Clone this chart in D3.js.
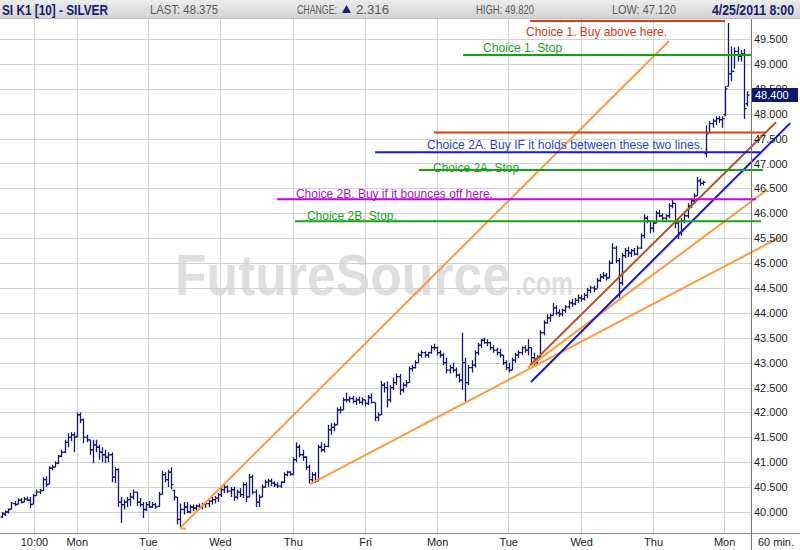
<!DOCTYPE html>
<html>
<head>
<meta charset="utf-8">
<script src="https://d3js.org/d3.v7.min.js"></script>
<style>
  body { margin: 0; background: #fff; }
  svg { display: block; }
</style>
</head>
<body>
<svg id="chart" width="800" height="550"></svg>
<script>
// SI K1 - 60 min bars
const opens = [
  39.9, 39.95, 40.0, 40.06, 40.17, 40.16, 40.24, 40.2, 40.26, 40.24,
  40.16, 40.33, 40.4, 40.43, 40.65, 40.56, 40.88, 40.9, 40.98, 41.12,
  41.2, 41.4, 41.5, 41.55, 41.52, 41.95, 41.85, 41.5, 41.45, 41.25,
  41.35, 41.3, 41.2, 41.15, 41.1, 41.15, 40.7, 40.85, 40.2, 40.15,
  40.2, 40.25, 40.3, 40.4, 40.2, 40.15, 40.05, 40.15, 40.1, 40.15,
  40.12, 40.36, 40.75, 40.65, 40.8, 40.43, 40.3, 39.85, 40.05, 40.1,
  40.0, 40.1, 40.08, 40.12, 40.1, 40.15, 40.17, 40.22, 40.25, 40.28,
  40.35, 40.45, 40.5, 40.42, 40.45, 40.3, 40.4, 40.35, 40.55, 40.3,
  40.7, 40.4, 40.2, 40.3, 40.5, 40.6, 40.62, 40.58, 40.55, 40.52,
  40.6, 40.75, 40.8, 40.76, 41.05, 41.3, 41.15, 41.1, 40.9, 40.65,
  40.75, 40.62, 41.3, 41.25, 41.32, 41.65, 41.7, 41.75, 42.05, 42.05,
  42.25, 42.25, 42.28, 42.22, 42.25, 42.2, 42.25, 42.18, 42.3, 42.2,
  41.9, 41.95, 42.55, 42.5, 42.25, 42.5, 42.6, 42.72, 42.45, 42.55,
  42.6, 42.88, 42.9, 43.0, 43.15, 43.2, 43.15, 43.2, 43.3, 43.3,
  43.2, 43.15, 43.0, 42.85, 42.9, 42.85, 42.75, 42.65, 43.0, 42.6,
  42.9, 42.95, 43.2, 43.35, 43.45, 43.4, 43.4, 43.3, 43.25, 43.2,
  43.15, 43.0, 42.9, 42.85, 43.05, 43.15, 43.2, 43.3, 43.25, 43.3,
  43.1, 43.0, 43.1, 43.6, 43.8, 43.9, 43.95, 44.1, 44.0, 43.98,
  44.05, 44.12, 44.2, 44.18, 44.25, 44.3, 44.28, 44.35, 44.45, 44.5,
  44.48, 44.65, 44.72, 44.75, 44.7, 45.0, 45.3, 45.05, 44.6, 45.15,
  45.25, 45.2, 45.25, 45.18, 45.3, 45.55, 45.9, 45.85, 45.7, 45.8,
  46.0, 45.95, 45.9, 45.95, 46.15, 46.2, 45.8, 45.6, 45.85, 45.95,
  46.15, 46.25, 46.35, 46.65, 46.6, 47.2, 47.62, 47.8, 47.85, 47.9,
  47.88, 47.98, 48.55, 48.8, 48.85, 49.25, 49.15, 49.2, 48.2
];
const highs = [
  40.0, 40.03, 40.07, 40.2, 40.22, 40.27, 40.28, 40.3, 40.31, 40.3,
  40.36, 40.45, 40.46, 40.7, 40.72, 40.92, 40.95, 41.02, 41.15, 41.25,
  41.45, 41.58, 41.6, 41.6, 42.0, 42.0, 41.88, 41.55, 41.45, 41.45,
  41.45, 41.35, 41.3, 41.25, 41.2, 41.2, 40.9, 40.88, 40.3, 40.25,
  40.3, 40.38, 40.45, 40.4, 40.28, 40.2, 40.2, 40.22, 40.2, 40.18,
  40.4, 40.83, 40.8, 40.85, 40.9, 40.45, 40.3, 40.17, 40.2, 40.2,
  40.15, 40.15, 40.15, 40.17, 40.18, 40.2, 40.27, 40.3, 40.32, 40.38,
  40.5, 40.55, 40.53, 40.5, 40.5, 40.45, 40.48, 40.6, 40.6, 40.77,
  40.75, 40.45, 40.35, 40.55, 40.65, 40.67, 40.67, 40.62, 40.6, 40.62,
  40.8, 40.83, 40.82, 41.1, 41.4, 41.35, 41.25, 41.12, 40.95, 40.8,
  40.8, 41.35, 41.4, 41.38, 41.75, 41.78, 41.8, 42.1, 42.12, 42.3,
  42.4, 42.32, 42.33, 42.3, 42.32, 42.3, 42.25, 42.35, 42.38, 42.2,
  42.0, 42.63, 42.6, 42.62, 42.55, 42.7, 42.78, 42.77, 42.6, 42.65,
  42.92, 42.95, 43.05, 43.2, 43.25, 43.23, 43.22, 43.35, 43.38, 43.32,
  43.25, 43.2, 43.1, 42.95, 43.0, 42.9, 42.78, 43.6, 43.1, 42.95,
  43.05, 43.25, 43.4, 43.48, 43.5, 43.47, 43.42, 43.35, 43.3, 43.28,
  43.15, 43.05, 43.0, 43.1, 43.2, 43.25, 43.33, 43.35, 43.47, 43.3,
  43.2, 43.15, 43.65, 43.85, 43.97, 43.98, 44.2, 44.15, 44.07, 44.08,
  44.15, 44.25, 44.28, 44.3, 44.37, 44.36, 44.4, 44.5, 44.55, 44.55,
  44.7, 44.78, 44.82, 44.8, 45.05, 45.4, 45.35, 45.1, 45.2, 45.3,
  45.32, 45.28, 45.3, 45.35, 45.6, 45.98, 45.95, 45.85, 45.85, 46.05,
  46.07, 46.0, 45.98, 46.2, 46.27, 46.2, 45.85, 45.9, 46.0, 46.2,
  46.3, 46.4, 46.73, 46.7, 46.66, 47.77, 47.85, 47.9, 47.95, 47.95,
  47.95, 48.55, 49.82, 49.35, 49.33, 49.35, 49.28, 49.3, 48.45
];
const lows = [
  39.88, 39.92, 39.97, 40.05, 40.12, 40.15, 40.17, 40.2, 40.22, 40.08,
  40.15, 40.32, 40.36, 40.42, 40.5, 40.55, 40.84, 40.9, 40.96, 41.1,
  41.18, 41.3, 41.42, 41.2, 41.5, 41.78, 41.38, 41.4, 41.15, 40.98,
  41.2, 41.05, 41.0, 40.98, 41.0, 40.6, 40.58, 40.1, 39.78, 40.05,
  40.1, 40.12, 40.25, 40.12, 40.1, 39.88, 40.02, 40.08, 40.08, 40.06,
  40.1, 40.35, 40.6, 40.5, 40.45, 40.23, 39.75, 39.68, 39.95, 39.98,
  39.97, 40.02, 40.03, 40.05, 40.05, 40.08, 40.1, 40.15, 40.17, 40.2,
  40.3, 40.38, 40.38, 40.3, 40.22, 40.25, 40.3, 40.28, 40.2, 40.3,
  40.35, 40.1, 40.1, 40.3, 40.48, 40.5, 40.52, 40.5, 40.48, 40.48,
  40.58, 40.72, 40.73, 40.74, 41.0, 41.1, 41.03, 40.85, 40.57, 40.6,
  40.58, 40.62, 41.2, 41.2, 41.3, 41.55, 41.62, 41.75, 41.98, 42.05,
  42.2, 42.2, 42.18, 42.15, 42.18, 42.15, 42.12, 42.15, 42.18, 41.83,
  41.83, 41.95, 42.4, 42.1, 42.2, 42.45, 42.55, 42.35, 42.4, 42.5,
  42.6, 42.82, 42.88, 43.0, 43.1, 43.1, 43.1, 43.18, 43.25, 43.15,
  43.1, 42.95, 42.78, 42.78, 42.8, 42.7, 42.6, 42.45, 42.22, 42.55,
  42.8, 42.9, 43.15, 43.3, 43.38, 43.33, 43.25, 43.2, 43.15, 43.1,
  42.95, 42.85, 42.8, 42.85, 43.0, 43.1, 43.15, 43.2, 43.15, 43.0,
  42.93, 42.95, 43.1, 43.55, 43.78, 43.82, 43.95, 43.95, 43.92, 43.93,
  44.0, 44.08, 44.12, 44.15, 44.2, 44.22, 44.25, 44.3, 44.4, 44.42,
  44.5, 44.62, 44.68, 44.65, 44.7, 44.98, 45.0, 44.3, 44.55, 45.1,
  45.12, 45.12, 45.15, 45.15, 45.28, 45.5, 45.8, 45.6, 45.62, 45.8,
  45.92, 45.85, 45.85, 45.9, 46.1, 45.7, 45.48, 45.55, 45.8, 45.9,
  46.1, 46.2, 46.35, 46.55, 46.56, 47.12, 47.6, 47.72, 47.78, 47.82,
  47.72, 47.95, 48.55, 48.65, 48.9, 49.05, 49.05, 47.9, 48.15
];
const closes = [
  39.97, 40.0, 40.05, 40.18, 40.15, 40.24, 40.2, 40.26, 40.24, 40.15,
  40.33, 40.4, 40.43, 40.65, 40.55, 40.88, 40.9, 40.98, 41.12, 41.2,
  41.4, 41.5, 41.55, 41.5, 41.95, 41.85, 41.5, 41.45, 41.25, 41.35,
  41.3, 41.2, 41.15, 41.1, 41.15, 40.7, 40.85, 40.2, 40.15, 40.2,
  40.25, 40.3, 40.4, 40.2, 40.15, 40.05, 40.15, 40.1, 40.15, 40.1,
  40.35, 40.75, 40.65, 40.8, 40.55, 40.3, 39.85, 40.05, 40.1, 40.0,
  40.1, 40.08, 40.12, 40.1, 40.15, 40.17, 40.22, 40.25, 40.28, 40.35,
  40.45, 40.5, 40.42, 40.45, 40.3, 40.4, 40.35, 40.55, 40.3, 40.7,
  40.4, 40.2, 40.3, 40.5, 40.6, 40.62, 40.58, 40.55, 40.52, 40.6,
  40.75, 40.8, 40.76, 41.05, 41.3, 41.15, 41.1, 40.9, 40.65, 40.75,
  40.62, 41.3, 41.25, 41.32, 41.65, 41.7, 41.75, 42.05, 42.05, 42.25,
  42.25, 42.28, 42.22, 42.25, 42.2, 42.25, 42.18, 42.3, 42.2, 41.9,
  41.95, 42.55, 42.5, 42.25, 42.5, 42.6, 42.72, 42.45, 42.55, 42.6,
  42.88, 42.9, 43.0, 43.15, 43.2, 43.15, 43.2, 43.3, 43.3, 43.2,
  43.15, 43.0, 42.85, 42.9, 42.85, 42.75, 42.65, 43.0, 42.6, 42.9,
  42.95, 43.2, 43.35, 43.45, 43.4, 43.4, 43.3, 43.25, 43.2, 43.15,
  43.0, 42.9, 42.85, 43.05, 43.15, 43.2, 43.3, 43.25, 43.3, 43.1,
  43.0, 43.1, 43.6, 43.8, 43.9, 43.95, 44.1, 44.0, 43.98, 44.05,
  44.12, 44.2, 44.18, 44.25, 44.3, 44.28, 44.35, 44.45, 44.5, 44.48,
  44.65, 44.72, 44.75, 44.7, 45.0, 45.3, 45.05, 44.6, 45.15, 45.25,
  45.2, 45.25, 45.18, 45.3, 45.55, 45.9, 45.85, 45.7, 45.8, 46.0,
  45.95, 45.9, 45.95, 46.15, 46.2, 45.8, 45.6, 45.85, 45.95, 46.15,
  46.25, 46.35, 46.65, 46.6, 46.62, 47.6, 47.8, 47.85, 47.9, 47.88,
  47.9, 48.5, 48.8, 48.85, 49.25, 49.15, 49.2, 48.1, 48.375
];

// axis ticks (bar index where each session label sits)
const tickIdx = [10.2, 23.9, 46.6, 69.6, 92.9, 116, 139, 161.7, 185, 208, 230.7];
const tickLabels = ["10:00", "Mon", "Tue", "Wed", "Thu", "Fri", "Mon", "Tue", "Wed", "Thu", "Mon"];
const priceTicks = [40, 40.5, 41, 41.5, 42, 42.5, 43, 43.5, 44, 44.5, 45, 45.5, 46, 46.5, 47, 47.5, 48, 48.5, 49, 49.5];

// header quote
const quoteFields = ["LAST: 48.375", "CHANGE:", "2.316", "HIGH: 49.820", "LOW: 47.120"];
const lastTag = "48.400";

// hand drawn levels
const levelText = ["Choice 1. Buy above here.", "Choice 1. Stop", "", "Choice 2A. Buy IF it holds between these two lines.", "Choice 2A. Stop", "Choice 2B. Buy if it bounces off here.", "Choice 2B. Stop."];
const levelPrice = [49.86, 49.18, 47.62, 47.225, 46.87, 46.28, 45.84];
const levelFrom = [168.7, 147.3, 138, 119.2, 133.2, 87.9, 93.6];
const levelTo = [231, 239.6, 243.8, 242.2, 243.1, 240.9, 242.5];
const labelIdx = [167.4, 153.7, 0, 135.8, 137.7, 93.9, 97.4];
const labelPrice = [49.57, 49.24, 0, 47.29, 46.83, 46.31, 45.87];

// trend lines [idx1, price1, idx2, price2]
const trends = [
  [56.9, 39.68, 213.1, 49.46],
  [56.9, 39.68, 58.8, 39.66],
  [98.4, 40.56, 248.6, 45.52],
  [168, 42.9, 244.4, 46.47],
  [168.7, 42.95, 247.3, 47.83],
  [169, 42.61, 251.8, 47.81]
];

const RED = "#e03c10", RED_TXT = "#cc3a12";
const GREEN = "#12a512", GREEN_TXT = "#22a022";
const BLUE = "#1414ee", BLUE_TXT = "#2b3fd0";
const MAG = "#cc00e6", MAG_TXT = "#9a22b8";
const ORANGE = "#ff9a3c", BROWN = "#b8501a";
const BAR = "#15156a";
const levelColor = [RED, GREEN, RED, BLUE, GREEN, MAG, GREEN];
const levelTxtColor = [RED_TXT, GREEN_TXT, RED_TXT, BLUE_TXT, GREEN_TXT, MAG_TXT, GREEN_TXT];
const trendColor = [ORANGE, ORANGE, ORANGE, ORANGE, BROWN, BLUE];

const FONT = "Arial, 'Liberation Sans', sans-serif";
const NARROW = "'Liberation Sans Narrow', 'Arial Narrow', Arial, sans-serif";

const svg = d3.select("#chart").attr("font-family", FONT);
const PLOT_R = 751, PLOT_T = 19, PLOT_B = 533;

const x = d3.scaleLinear().domain([0, closes.length - 1]).range([2, 747]);
const y = d3.scaleLinear().domain([40, 49.5]).range([512, 39]);

svg.append("rect").attr("width", 800).attr("height", 550).attr("fill", "#fff");

// watermark (under the grid)
svg.append("text")
    .attr("x", 175).attr("y", 295)
    .attr("font-size", 58).attr("font-weight", 700)
    .attr("fill", "#dedede")
    .attr("textLength", 336).attr("lengthAdjust", "spacingAndGlyphs")
    .text("FutureSource");
svg.append("text")
    .attr("x", 515).attr("y", 295)
    .attr("font-size", 34).attr("font-weight", 700)
    .attr("fill", "#dedede")
    .attr("textLength", 58).attr("lengthAdjust", "spacingAndGlyphs")
    .text(".com");

// grid
const grid = svg.append("g").attr("stroke", "#d2d2d2").attr("stroke-width", 1);
grid.selectAll("line.h").data(priceTicks).join("line")
    .attr("class", "h")
    .attr("x1", 0).attr("x2", PLOT_R)
    .attr("y1", d => Math.round(y(d)) + 0.5)
    .attr("y2", d => Math.round(y(d)) + 0.5);
grid.selectAll("line.v").data(tickIdx).join("line")
    .attr("class", "v")
    .attr("y1", PLOT_T).attr("y2", PLOT_B)
    .attr("x1", d => Math.round(x(d)) + 0.5)
    .attr("x2", d => Math.round(x(d)) + 0.5);

// price bars
const bars = svg.append("g")
    .attr("stroke", BAR).attr("stroke-width", 1.3).attr("fill", "none");
bars.selectAll("path").data(closes).join("path")
    .attr("d", (c, i) => {
        let bx = Math.round(x(i)) + 0.5;
        return `M${bx},${y(highs[i])}V${y(lows[i])}` +
            `M${bx - 2},${y(opens[i])}H${bx}` +
            `M${bx},${y(c)}H${bx + 2}`;
    });

// trend lines
svg.append("g").selectAll("line").data(trends).join("line")
    .attr("x1", d => x(d[0])).attr("y1", d => y(d[1]))
    .attr("x2", d => x(d[2])).attr("y2", d => y(d[3]))
    .attr("stroke", (d, i) => trendColor[i])
    .attr("stroke-width", 2);

// horizontal levels + their notes
const lv = svg.append("g");
lv.selectAll("line").data(levelPrice).join("line")
    .attr("x1", (d, i) => x(levelFrom[i])).attr("x2", (d, i) => x(levelTo[i]))
    .attr("y1", d => y(d)).attr("y2", d => y(d))
    .attr("stroke", (d, i) => levelColor[i])
    .attr("stroke-width", 2);
const noteWidth = [141, 79, 0, 276, 86, 197, 90];
lv.selectAll("text").data(levelText).join("text")
    .filter(d => d !== "")
    .attr("x", d => x(labelIdx[levelText.indexOf(d)]))
    .attr("y", d => y(labelPrice[levelText.indexOf(d)]))
    .attr("font-size", 13)
    .attr("fill", d => levelTxtColor[levelText.indexOf(d)])
    .attr("textLength", d => noteWidth[levelText.indexOf(d)])
    .attr("lengthAdjust", "spacingAndGlyphs")
    .text(d => d);

// right price axis
const yAxis = d3.axisRight(y)
    .tickValues(priceTicks)
    .tickFormat(d3.format(".3f"))
    .tickSize(0).tickPadding(3);
const ya = svg.append("g").attr("transform", `translate(${PLOT_R},0)`).call(yAxis);
ya.select(".domain").remove();
ya.selectAll("text").attr("font-size", 11).attr("fill", "#1a1a1a").attr("font-family", FONT);

// last price tag
const lastY = Math.round(y(closes[closes.length - 1]));
svg.append("rect")
    .attr("x", PLOT_R + 1).attr("y", lastY - 7)
    .attr("width", 46).attr("height", 14)
    .attr("fill", "#0d1a6b");
svg.append("text")
    .attr("x", PLOT_R + 4).attr("y", lastY + 4)
    .attr("font-size", 11).attr("fill", "#fff")
    .text(lastTag);

// bottom time axis
const xAxis = d3.axisBottom(x)
    .tickValues(tickIdx)
    .tickFormat((d, i) => tickLabels[i])
    .tickSize(0).tickPadding(5);
const xa = svg.append("g").attr("transform", `translate(0,${PLOT_B})`).call(xAxis);
xa.select(".domain").remove();
xa.selectAll("text").attr("font-size", 11).attr("fill", "#1a1a1a").attr("font-family", FONT);
svg.append("text")
    .attr("x", 776).attr("y", 546)
    .attr("text-anchor", "middle")
    .attr("font-size", 11).attr("fill", "#1a1a1a")
    .text("60 min.");

// frame lines
svg.append("line").attr("x1", 0).attr("x2", 800)
    .attr("y1", PLOT_B + 0.5).attr("y2", PLOT_B + 0.5)
    .attr("stroke", "#8c8c8c");
svg.append("line").attr("x1", PLOT_R + 0.5).attr("x2", PLOT_R + 0.5)
    .attr("y1", PLOT_T).attr("y2", 550)
    .attr("stroke", "#777");

// header bar
const defs = svg.append("defs");
const grad = defs.append("linearGradient").attr("id", "hdr")
    .attr("x1", 0).attr("y1", 0).attr("x2", 0).attr("y2", 1);
grad.append("stop").attr("offset", "0%").attr("stop-color", "#ececec");
grad.append("stop").attr("offset", "100%").attr("stop-color", "#d4d4d4");
svg.append("rect").attr("width", 800).attr("height", 18).attr("fill", "url(#hdr)");
svg.append("line").attr("x1", 0).attr("x2", 800).attr("y1", 18.5).attr("y2", 18.5)
    .attr("stroke", "#bdbdbd");

const hdr = svg.append("g").attr("font-family", NARROW);
hdr.append("text").attr("x", 2).attr("y", 15)
    .attr("font-size", 15).attr("font-weight", 700).attr("fill", "#16206e")
    .attr("textLength", 106).attr("lengthAdjust", "spacingAndGlyphs")
    .text("SI K1 [10] - SILVER");
const fieldX = [150, 297, 356, 476, 612];
const fieldW = [68, 40, 33, 58, 64];
hdr.selectAll("text.q").data(quoteFields).join("text")
    .attr("class", "q")
    .attr("x", (d, i) => fieldX[i]).attr("y", 14)
    .attr("font-size", 12).attr("fill", "#5a5a5a")
    .attr("textLength", (d, i) => fieldW[i]).attr("lengthAdjust", "spacingAndGlyphs")
    .text(d => d);
hdr.append("path").attr("d", "M342,13 L346.5,5 L351,13 Z").attr("fill", "#16206e");
hdr.append("text").attr("x", 794).attr("y", 15)
    .attr("text-anchor", "end")
    .attr("font-size", 15).attr("font-weight", 700).attr("fill", "#16206e")
    .attr("textLength", 82).attr("lengthAdjust", "spacingAndGlyphs")
    .text("4/25/2011 8:00");
</script>
</body>
</html>
